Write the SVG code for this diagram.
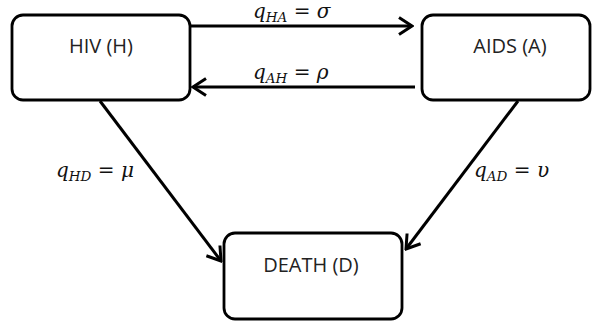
<svg xmlns="http://www.w3.org/2000/svg" width="592" height="323" viewBox="0 0 592 323">
<style>
.box{fill:#fff;stroke:#000;stroke-width:2.8}
.lbl{font-family:"Open Sans",sans-serif;font-size:20px;fill:#222;text-anchor:middle}
.edge{stroke:#000;stroke-width:3;fill:none}
.m{font-family:"DejaVu Serif",serif;font-style:italic;font-size:20px;fill:#111}
.sub{font-size:13.5px}
.up{font-style:normal}
</style>
<defs>
<marker id="arr" markerUnits="userSpaceOnUse" viewBox="-16 -11 18 22" refX="0" refY="0" markerWidth="18" markerHeight="22" orient="auto">
<path d="M-13,-8.5 L0,0 L-13,8.5" fill="none" stroke="#000" stroke-width="3" stroke-linejoin="miter"/>
</marker>
</defs>
<rect width="592" height="323" fill="#fff"/>
<g id="connectors">
<line class="edge" x1="191" y1="26" x2="412" y2="26" marker-end="url(#arr)"/>
<line class="edge" x1="415" y1="87" x2="193" y2="87" marker-end="url(#arr)"/>
<line class="edge" x1="100" y1="101" x2="221" y2="261" marker-end="url(#arr)"/>
<line class="edge" x1="518" y1="101" x2="406" y2="249" marker-end="url(#arr)"/>
<text class="m" x="253" y="18">q<tspan class="sub" dy="4">HA</tspan><tspan class="up" dy="-4"> = </tspan>σ</text>
<text class="m" x="253" y="79">q<tspan class="sub" dy="4">AH</tspan><tspan class="up" dy="-4"> = </tspan>ρ</text>
<text class="m" x="56" y="177">q<tspan class="sub" dy="4">HD</tspan><tspan class="up" dy="-4"> = </tspan>μ</text>
<text class="m" x="474" y="177">q<tspan class="sub" dy="4">AD</tspan><tspan class="up" dy="-4"> = </tspan>υ</text>
</g>
<g id="node-hiv">
<rect class="box" x="12" y="15" width="178" height="85" rx="11"/>
<text class="lbl" x="101" y="53">HIV (H)</text>
</g>
<g id="node-aids">
<rect class="box" x="422" y="15" width="168" height="85" rx="11"/>
<text class="lbl" x="510" y="53">AIDS (A)</text>
</g>
<g id="node-death">
<rect class="box" x="224" y="233" width="178" height="86" rx="11"/>
<text class="lbl" x="311" y="272">DEATH (D)</text>
</g>
</svg>
